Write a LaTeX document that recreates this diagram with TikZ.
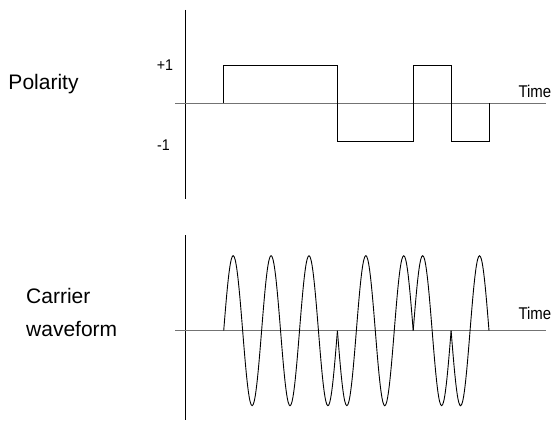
\documentclass[tikz,border=0pt]{standalone}
\usepackage{fontspec}
\setmainfont{Liberation Sans}
\newfontfamily\narrowfont[FakeStretch=0.88]{Liberation Sans}
\newfontfamily\ticksfont[FakeStretch=0.92]{Liberation Sans}

\begin{document}
\begin{tikzpicture}[
  x=1pt, y=1pt,
  line cap=butt,
  line join=miter,
  every node/.style={inner sep=0pt, anchor=base west},
  axis/.style={line width=1pt, black},
  timeaxis/.style={line width=1pt, black!55},
  wave/.style={line width=0.9pt, black},
  label/.style={font=\fontsize{21}{25}\selectfont},
  tick/.style={font=\ticksfont\fontsize{15.5}{18}\selectfont},
  timelabel/.style={font=\narrowfont\fontsize{17}{20}\selectfont}
]

% page frame 553 x 421
\useasboundingbox (0,0) rectangle (553,421);

% --- Polarity (square wave) ---
\begin{scope}[shift={(185,317.7)}]
  \draw[axis] (0,93.3) -- (0,-95.7);
  \draw[timeaxis] (-10,0) -- (361,0);
  \node[label] (polarity) at (-176.7,13.3) {Polarity};
  \node[tick, anchor=base east] (plusone) at (-11.7,32.6) {+1};
  \node[tick, anchor=base east] (minusone) at (-15,-47.4) {-1};
  \node[timelabel] (timetop) at (333.3,5.4) {Time};

  % +1 for 3 periods, -1 for 2, +1 for 1, -1 for 1
  \draw[wave] (38.7,0) -- (38.7,37.8) -- (152.4,37.8) -- (152.4,-37.8)
    -- (228.2,-37.8) -- (228.2,37.8) -- (266.1,37.8) -- (266.1,-37.8)
    -- (304,-37.8) -- (304,0);
\end{scope}

% --- Carrier waveform (phase flips with polarity) ---
\begin{scope}[shift={(185,90.3)}]
  \draw[axis] (0,95.7) -- (0,-89.3);
  \draw[timeaxis] (-10,0) -- (361,0);
  \node[label] (carrier) at (-159,27.4) {Carrier};
  \node[label] (waveform) at (-159,-6) {waveform};
  \node[timelabel] (timebottom) at (333.3,11.4) {Time};

  % periods 0-3: in phase
  \draw[wave] plot[domain=0:3, samples=121, smooth] ({38.7+37.9*\x},{75*sin(360*\x)});
  % periods 3-5: inverted
  \draw[wave] plot[domain=3:5, samples=81, smooth] ({38.7+37.9*\x},{-75*sin(360*\x)});
  % period 5-6: in phase
  \draw[wave] plot[domain=5:6, samples=41, smooth] ({38.7+37.9*\x},{75*sin(360*\x)});
  % period 6-7: inverted
  \draw[wave] plot[domain=6:7, samples=41, smooth] ({38.7+37.9*\x},{-75*sin(360*\x)});
\end{scope}

\end{tikzpicture}
\end{document}
